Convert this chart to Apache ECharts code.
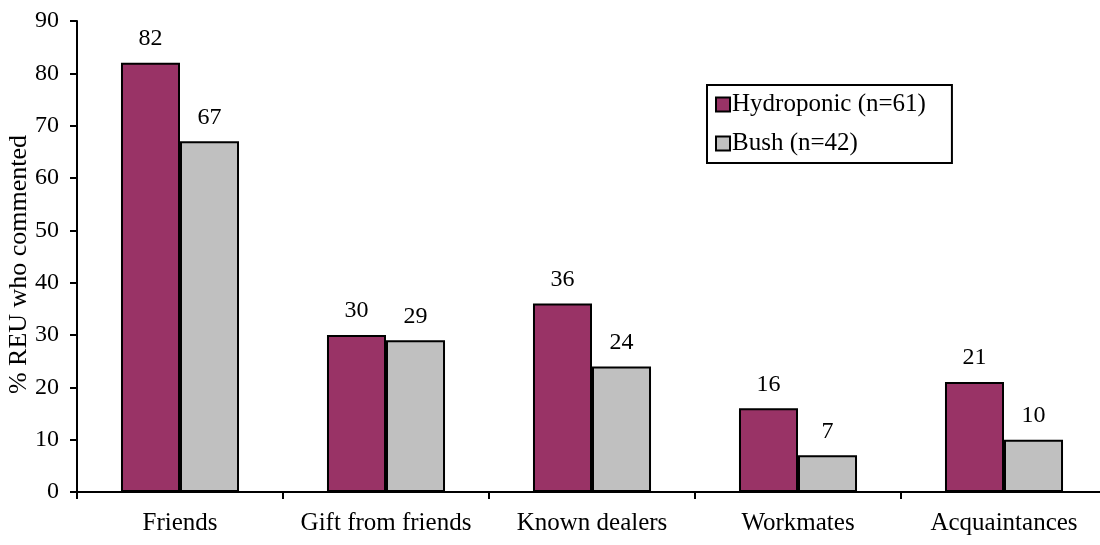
<!DOCTYPE html>
<html>
<head>
<meta charset="utf-8">
<script src="https://cdn.jsdelivr.net/npm/echarts@6/dist/echarts.min.js"></script>
<style>
  html, body { margin: 0; padding: 0; background: #fff; }
  #chart { width: 1100px; height: 545px; }
</style>
</head>
<body>
<div id="chart"></div>
<script>
const categories = ['Friends', 'Gift from friends', 'Known dealers', 'Workmates', 'Acquaintances'];
const hydroponic = [82, 30, 36, 16, 21];
const bush = [67, 29, 24, 7, 10];
const seriesNames = ['Hydroponic (n=61)', 'Bush (n=42)'];
const yTicks = { min: 0, max: 90, interval: 10 };

const FONT = '"Liberation Serif", "DejaVu Serif", serif';
const chart = echarts.init(document.getElementById('chart'), null, { renderer: 'canvas' });

const barLabel = {
  show: true,
  position: 'top',
  distance: 12,
  color: '#000',
  fontFamily: FONT,
  fontSize: 24
};

chart.setOption({
  animation: false,
  backgroundColor: '#fff',
  grid: { left: 77, top: 21, width: 1030, bottom: 53, containLabel: false, outerBoundsMode: 'none' },
  legend: {
    orient: 'vertical',
    left: 707,
    top: 85,
    padding: [7, 26, 7, 8],
    itemGap: 14,
    itemWidth: 14,
    itemHeight: 14,
    icon: 'rect',
    backgroundColor: '#fff',
    borderColor: '#000',
    borderWidth: 2,
    borderRadius: 0,
    itemStyle: { borderColor: '#000', borderWidth: 2 },
    textStyle: { fontFamily: FONT, fontSize: 25, color: '#000', padding: [0, 0, 0, -3] },
    data: seriesNames
  },
  xAxis: {
    type: 'category',
    data: categories,
    axisLine: { show: true, lineStyle: { color: '#000', width: 2 } },
    axisTick: { show: true, interval: 0, alignWithLabel: false, length: 7, lineStyle: { color: '#000', width: 2 } },
    axisLabel: { interval: 0, color: '#000', fontFamily: FONT, fontSize: 25, margin: 19 }
  },
  yAxis: {
    type: 'value',
    min: yTicks.min,
    max: yTicks.max,
    interval: yTicks.interval,
    name: '% REU who commented',
    nameLocation: 'middle',
    nameGap: 45,
    nameMoveOverlap: false,
    nameRotate: 90,
    nameTextStyle: { color: '#000', fontFamily: FONT, fontSize: 26, padding: [0, 16, 0, 0] },
    axisLine: { show: true, lineStyle: { color: '#000', width: 2 } },
    axisTick: { show: true, length: 7, lineStyle: { color: '#000', width: 2 } },
    axisLabel: { color: '#000', fontFamily: FONT, fontSize: 24, margin: 18 },
    splitLine: { show: false }
  },
  series: [
    {
      name: seriesNames[0],
      type: 'bar',
      data: hydroponic,
      barGap: '0%',
      barCategoryGap: '42.7%',
      itemStyle: { color: '#993366', borderColor: '#000', borderWidth: 2 },
      label: barLabel
    },
    {
      name: seriesNames[1],
      type: 'bar',
      data: bush,
      barGap: '0%',
      barCategoryGap: '42.7%',
      itemStyle: { color: '#C0C0C0', borderColor: '#000', borderWidth: 2 },
      label: barLabel
    }
  ]
});
</script>
</body>
</html>
